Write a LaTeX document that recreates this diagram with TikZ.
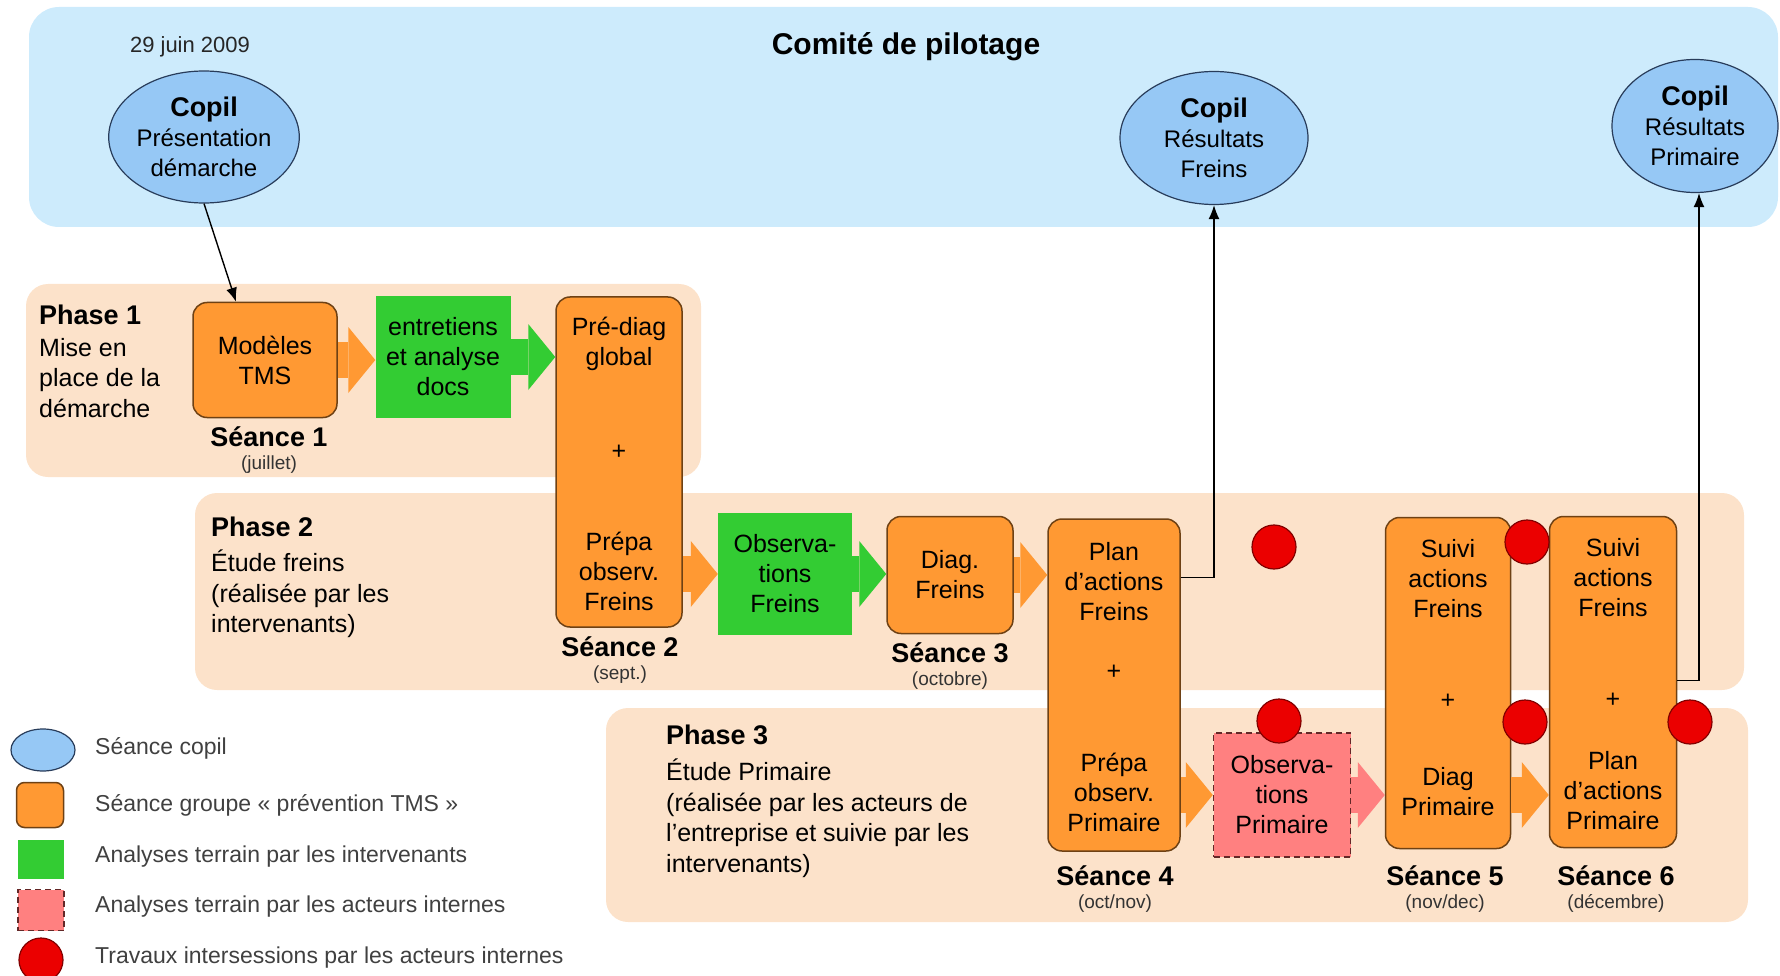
\documentclass[tikz,border=0pt]{standalone}
\usepackage{fontspec}
\setmainfont{Liberation Sans}
\usepackage{xcolor}
\usetikzlibrary{positioning}
\usetikzlibrary{arrows,arrows.meta,shapes.geometric}
\tikzset{edge/.style = {->,> = latex'}}

\definecolor{bandbleu}{RGB}{205,235,252}
\definecolor{copilbleu}{RGB}{150,200,245}
\definecolor{bordbleu}{RGB}{40,60,90}
\definecolor{bandpeche}{RGB}{252,226,202}
\definecolor{seanceorange}{RGB}{255,153,51}
\definecolor{bordorange}{RGB}{110,65,20}
\definecolor{terrainvert}{RGB}{51,204,51}
\definecolor{internerose}{RGB}{255,128,128}
\definecolor{bordrose}{RGB}{100,40,40}
\definecolor{pastillerouge}{RGB}{235,0,0}
\definecolor{bordrouge}{RGB}{130,0,0}

\begin{document}
\begin{tikzpicture}[x=1pt,y=-1pt,every node/.style={inner sep=0pt},
    texte/.style={align=center,font=\fontsize{25}{30}\selectfont},
    seance/.style={texte,draw=bordorange,fill=seanceorange,line width=1.5pt,rounded corners=14pt},
    terrain/.style={texte,fill=terrainvert},
    interne/.style={texte,draw=bordrose,fill=internerose,dash pattern=on 6pt off 4pt,line width=1.5pt},
    copil/.style={ellipse,draw=bordbleu,fill=copilbleu,line width=1.2pt,align=center,font=\fontsize{24}{30}\selectfont},
    pastille/.style={circle,draw=bordrouge,fill=pastillerouge,line width=1.2pt,minimum size=44pt},
    fleche/.style={line width=36pt,draw=#1,-{Triangle[length=27pt,width=66pt,line width=0pt]}},
    lien/.style={edge,>={Latex[length=14pt,width=11pt]},line width=1.4pt},
    seancelbl/.style={font=\bfseries\fontsize{27}{30}\selectfont},
    moislbl/.style={text=black!80,font=\fontsize{19}{22}\selectfont},
    legende/.style={anchor=west,text=black!75,font=\fontsize{23}{26}\selectfont},
    phasetitre/.style={anchor=west,font=\bfseries\fontsize{27}{30}\selectfont},
    phasetexte/.style={anchor=north west,align=left,font=\fontsize{25}{30.5}\selectfont}]
\useasboundingbox (0,0) rectangle (1780,976);

\fill[bandbleu,rounded corners=30pt] (29,7) rectangle (1778,227);
\fill[bandpeche,rounded corners=22pt] (26,284) rectangle (701,477);
\fill[bandpeche,rounded corners=22pt] (195,493) rectangle (1744,690);
\fill[bandpeche,rounded corners=22pt] (606,708) rectangle (1748,922);

\node[font=\fontsize{22}{26}\selectfont,text=black!85] (date) at (190,47) {29 juin 2009};
\node[font=\bfseries\fontsize{30}{34}\selectfont] (comite) at (906,47) {Comité de pilotage};

\node[copil,minimum width=180pt,minimum height=132pt] (c1) at (204,137) {\textbf{\fontsize{27}{30}\selectfont Copil}\\Présentation\\démarche};
\node[copil,minimum width=188pt,minimum height=133pt] (c2) at (1214,138) {\textbf{\fontsize{27}{30}\selectfont Copil}\\Résultats\\Freins};
\node[copil,minimum width=166pt,minimum height=133pt] (c3) at (1695,126) {\textbf{\fontsize{27}{30}\selectfont Copil}\\Résultats\\Primaire};

\node[phasetitre] (ph1) at (39,315) {Phase 1};
\node[phasetexte] at (39,338) {Mise en\\place de la\\démarche};
\node[phasetitre] (ph2) at (211,527) {Phase 2};
\node[phasetexte] at (211,550) {Étude freins\\(réalisée par les\\intervenants)};
\node[phasetitre] (ph3) at (666,735) {Phase 3};
\node[phasetexte] at (666,759) {Étude Primaire\\(réalisée par les acteurs de\\l’entreprise et suivie par les\\intervenants)};

\node[seance,minimum width=144pt,minimum height=115pt] (m1) at (265,360) {Modèles\\TMS};
\node[terrain,minimum width=135pt,minimum height=121pt] (g1) at (443,357) {entretiens\\et analyse\\docs};
\node[seance,minimum width=126pt,minimum height=330pt] (s2) at (619,462) {};
\node[terrain,minimum width=134pt,minimum height=122pt] (g2) at (785,574) {Observa-\\tions\\Freins};
\node[seance,minimum width=126pt,minimum height=117pt] (s3) at (950,575) {Diag.\\Freins};
\node[seance,minimum width=132pt,minimum height=332pt] (s4) at (1114,685) {};
\node[interne,minimum width=137pt,minimum height=124pt] (p1) at (1282,795) {Observa-\\tions\\Primaire};
\node[seance,minimum width=125pt,minimum height=331pt] (s5) at (1448,683) {};
\node[seance,minimum width=127pt,minimum height=331pt] (s6) at (1613,682) {};

\node[texte] at ([yshift=-48pt]s2.north) {Pré-diag\\global};
\node[texte] at ([yshift=-156pt]s2.north) {+};
\node[texte] at ([yshift=-275pt]s2.north) {Prépa\\observ.\\Freins};
\node[texte] at ([yshift=-63pt]s4.north) {Plan\\d’actions\\Freins};
\node[texte] at ([yshift=-154pt]s4.north) {+};
\node[texte] at ([yshift=-274pt]s4.north) {Prépa\\observ.\\Primaire};
\node[texte] at ([yshift=-62pt]s5.north) {Suivi\\actions\\Freins};
\node[texte] at ([yshift=-185pt]s5.north) {+};
\node[texte] at ([yshift=-275pt]s5.north) {Diag\\Primaire};
\node[texte] at ([yshift=-62pt]s6.north) {Suivi\\actions\\Freins};
\node[texte] at ([yshift=-185pt]s6.north) {+};
\node[texte] at ([yshift=-275pt]s6.north) {Plan\\d’actions\\Primaire};

\draw[fleche=seanceorange] (m1.east) -- (m1.east -| g1.west);
\draw[fleche=terrainvert] (g1.east) -- (g1.east -| s2.west);
\draw[fleche=seanceorange] (g2.west -| s2.east) -- (g2.west);
\draw[fleche=terrainvert] (g2.east) -- (g2.east -| s3.west);
\draw[fleche=seanceorange] (s3.east) -- (s3.east -| s4.west);
\draw[fleche=seanceorange] (p1.west -| s4.east) -- (p1.west);
\draw[fleche=internerose] (p1.east) -- (p1.east -| s5.west);
\draw[fleche=seanceorange] (p1.east -| s5.east) -- (p1.east -| s6.west);

\node[seancelbl] (l1) at (269,437) {Séance 1};
\node[moislbl,below=8pt of l1] {(juillet)};
\node[seancelbl] (l2) at (620,647) {Séance 2};
\node[moislbl,below=8pt of l2] {(sept.)};
\node[seancelbl] (l3) at (950,653) {Séance 3};
\node[moislbl,below=8pt of l3] {(octobre)};
\node[seancelbl] (l4) at (1115,876) {Séance 4};
\node[moislbl,below=8pt of l4] {(oct/nov)};
\node[seancelbl] (l5) at (1445,876) {Séance 5};
\node[moislbl,below=8pt of l5] {(nov/dec)};
\node[seancelbl] (l6) at (1616,876) {Séance 6};
\node[moislbl,below=8pt of l6] {(décembre)};

\draw[lien] (c1.south) -- ([xshift=-29pt]m1.north);
\draw[lien] ([yshift=-59pt]s4.north east) -| (c2.south);
\draw[lien] ([yshift=-165pt]s6.north east) -| ([xshift=4pt]c3.south);

\node[pastille] (r1) at (1274,547) {};
\node[pastille] (r2) at (1279,721) {};
\node[pastille] (r3) at (1527,542) {};
\node[pastille] (r4) at (1525,722) {};
\node[pastille] (r5) at (1690,722) {};

\node[copil,minimum width=64pt,minimum height=42pt] (lc) at (43,750) {};
\node[seance,rounded corners=8pt,minimum width=47pt,minimum height=45pt] (lo) at (40,805) {};
\node[terrain,minimum width=46pt,minimum height=39pt] (lv) at (41,859) {};
\node[interne,minimum width=46pt,minimum height=41pt] (lr) at (41,910) {};
\node[pastille] (lp) at (41,960) {};
\node[legende] at (95,748) {Séance copil};
\node[legende] at (95,805) {Séance groupe « prévention TMS »};
\node[legende] at (95,857) {Analyses terrain par les intervenants};
\node[legende] at (95,907) {Analyses terrain par les acteurs internes};
\node[legende] at (95,958) {Travaux intersessions par les acteurs internes};
\end{tikzpicture}
\end{document}
